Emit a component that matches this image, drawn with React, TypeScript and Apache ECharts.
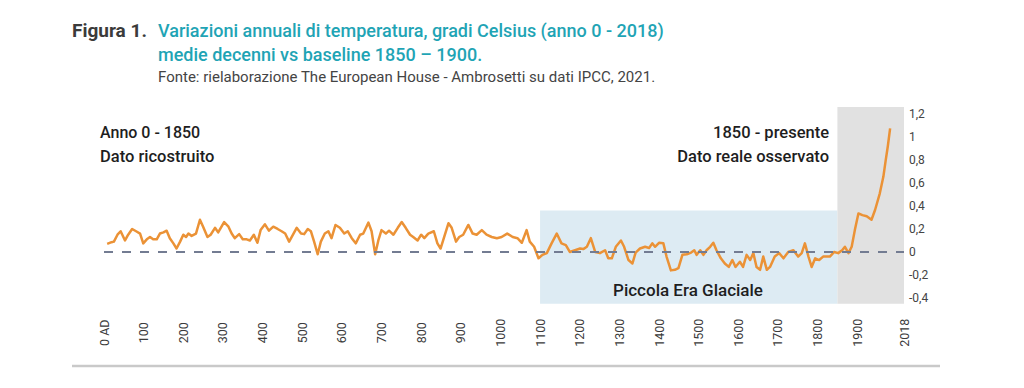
import React, { useEffect, useRef } from "react";
import * as echarts from "echarts";

// Years (x) and temperature anomaly (°C vs 1850-1900)
const years: number[] = [
  8, 19, 25, 34, 42, 53, 61, 71, 81, 91, 99, 108, 116, 124, 133, 141, 150, 158, 166, 175,
  183, 192, 200, 207, 213, 221, 232, 242, 250, 261, 269, 280, 288, 303, 314, 322, 330, 341,
  350, 360, 368, 378, 387, 395, 406, 416, 427, 438, 448, 457, 467, 475, 486, 497, 505, 514,
  522, 530, 539, 547, 557, 566, 574, 584, 595, 606, 615, 625, 635, 646, 654, 667, 675, 684,
  692, 700, 711, 719, 730, 741, 751, 761, 772, 780, 791, 800, 808, 818, 832, 841, 849, 858,
  869, 877, 888, 896, 906, 919, 930, 940, 953, 965, 978, 991, 1003, 1017, 1031, 1043, 1054,
  1066, 1074, 1085, 1096, 1106, 1117, 1129, 1142, 1154, 1165, 1175, 1188, 1201, 1209, 1218,
  1228, 1239, 1251, 1264, 1272, 1281, 1291, 1304, 1312, 1323, 1333, 1341, 1352, 1365, 1375,
  1383, 1390, 1400, 1411, 1419, 1430, 1440, 1449, 1459, 1470, 1481, 1489, 1495, 1504, 1512,
  1520, 1529, 1537, 1545, 1556, 1566, 1576, 1585, 1593, 1604, 1612, 1621, 1630, 1638, 1646,
  1655, 1663, 1672, 1680, 1692, 1703, 1714, 1726, 1739, 1751, 1760, 1768, 1777, 1785, 1794,
  1804, 1814, 1823, 1831, 1842, 1852, 1862, 1869, 1878, 1886, 1894, 1903, 1913, 1924, 1936,
  1945, 1957, 1966, 1972, 1977, 1983,
];
const anomalies: number[] = [
  0.07, 0.085, 0.09, 0.15, 0.18, 0.1, 0.15, 0.2, 0.18, 0.16, 0.075, 0.11, 0.13, 0.11, 0.11, 0.16, 0.17, 0.185, 0.12, 0.075,
  0.03, 0.09, 0.15, 0.13, 0.16, 0.14, 0.16, 0.28, 0.22, 0.13, 0.15, 0.21, 0.17, 0.26, 0.22, 0.16, 0.12, 0.155,
  0.11, 0.11, 0.1, 0.15, 0.08, 0.19, 0.24, 0.185, 0.22, 0.2, 0.18, 0.16, 0.09, 0.14, 0.21, 0.16, 0.155, 0.2,
  0.18, 0.09, -0.02, 0.09, 0.16, 0.18, 0.12, 0.235, 0.21, 0.16, 0.18, 0.12, 0.075, 0.15, 0.16, 0.255, 0.18, -0.02,
  0.1, 0.19, 0.16, 0.185, 0.15, 0.21, 0.26, 0.21, 0.15, 0.13, 0.1, 0.15, 0.12, 0.16, 0.18, 0.075, 0.03, 0.13,
  0.25, 0.21, 0.09, 0.13, 0.15, 0.235, 0.16, 0.15, 0.19, 0.15, 0.13, 0.12, 0.13, 0.16, 0.13, 0.12, 0.08,
  0.19, 0.09, 0.045, -0.055, -0.025, -0.01, 0.075, 0.16, 0.075, 0.06, 0.0, 0.015, 0.03, 0.025, 0.045,
  0.12, 0.0, -0.01, 0.015, -0.055, -0.055, 0.045, 0.1, 0.045, -0.07, -0.1, -0.005, 0.03, 0.045, 0.035,
  0.075, 0.045, 0.08, 0.075, -0.04, -0.16, -0.155, -0.14, -0.025, -0.02, -0.005, 0.015, -0.025, 0.015, -0.025,
  0.015, 0.045, 0.08, 0.015, -0.055, -0.1, -0.13, -0.07, -0.13, -0.085, -0.13, -0.025, -0.07, -0.01, -0.13,
  -0.155, -0.04, -0.155, -0.13, -0.04, -0.01, -0.055, 0.0, 0.015, -0.04, -0.01, 0.075, -0.04, -0.13, -0.055,
  -0.07, -0.04, -0.04, -0.04, 0.0, -0.01, 0.015, 0.045, -0.01, 0.045, 0.19, 0.335, 0.32, 0.31, 0.28,
  0.365, 0.51, 0.655, 0.8, 0.915, 1.075,
];

const xTickValues: number[] = [0, 100, 200, 300, 400, 500, 600, 700, 800, 900, 1000, 1100, 1200, 1300, 1400, 1500, 1600, 1700, 1800, 1900, 2018];
const yTickValues: number[] = [-0.4, -0.2, 0, 0.2, 0.4, 0.6, 0.8, 1, 1.2];

// Highlighted periods
const littleIceAge = { from: 1100, to: 1850, top: 0.36 };
const observedPeriod = { from: 1850, to: 2018 };
const yMin = -0.45;
const yMax = 1.26;

const FONT = "Roboto, 'Noto Sans', sans-serif";

const txt = (
  text: string,
  x: number,
  y: number,
  font: string,
  fill: string,
  align: string = "left"
) => ({
  type: "text",
  x,
  y,
  z: 100,
  zlevel: 0,
  style: {
    text,
    font,
    fill,
    align,
    verticalAlign: "middle",
    textAlign: align,
    textVerticalAlign: "middle",
  },
});

export default function App() {
  const ref = useRef<HTMLDivElement>(null);

  useEffect(() => {
    if (!ref.current) return;
    const chart = echarts.init(ref.current, undefined, { renderer: "svg" });
    const lineData = years.map((y, i) => [y, anomalies[i]]);

    chart.setOption({
      animation: false,
      backgroundColor: "#ffffff",
      grid: { left: 104, right: 120, top: 107, bottom: 84.25, containLabel: false },
      xAxis: {
        type: "value",
        min: 0,
        max: 2018,
        axisLine: { show: false },
        axisTick: { show: false },
        splitLine: { show: false },
        axisLabel: {
          customValues: xTickValues,
          rotate: 90,
          align: "center",
          verticalAlign: "middle",
          margin: 29,
          fontFamily: FONT,
          fontSize: 12.5,
          color: "#3a3a3a",
          formatter: (v: number) => (v === 0 ? "0 AD" : String(v)),
        },
      },
      yAxis: {
        type: "value",
        position: "right",
        min: yMin,
        max: yMax,
        axisLine: { show: false },
        axisTick: { show: false },
        splitLine: { show: false },
        axisLabel: {
          customValues: yTickValues,
          margin: 5,
          fontFamily: FONT,
          fontSize: 12,
          color: "#444444",
          formatter: (v: number) => String(Math.round(v * 10) / 10).replace(".", ","),
        },
      },
      series: [
        {
          type: "line",
          data: [],
          z: 1,
          silent: true,
          markArea: {
            silent: true,
            data: [
              [
                { xAxis: littleIceAge.from, yAxis: yMin, itemStyle: { color: "#DDEBF3" } },
                { xAxis: littleIceAge.to, yAxis: littleIceAge.top },
              ],
              [
                { xAxis: observedPeriod.from, yAxis: yMin, itemStyle: { color: "#E1E1E1" } },
                { xAxis: observedPeriod.to, yAxis: yMax },
              ],
            ],
          },
          markLine: {
            silent: true,
            symbol: "none",
            label: { show: false },
            lineStyle: { color: "#737C92", width: 2, type: [9, 9] },
            data: [{ yAxis: 0 }],
          },
        },
        {
          type: "line",
          data: lineData,
          z: 3,
          showSymbol: false,
          silent: true,
          lineStyle: { color: "#EB9236", width: 2.5, join: "round" },
        },
      ],
      graphic: {
        elements: [
          txt("Figura 1.", 72, 30, `bold 19px ${FONT}`, "#3b3b3b"),
          txt("Variazioni annuali di temperatura, gradi Celsius (anno 0 - 2018)", 158, 30, `500 18px ${FONT}`, "#1FA4B5"),
          txt("medie decenni vs baseline 1850 – 1900.", 158, 54, `500 18px ${FONT}`, "#1FA4B5"),
          txt("Fonte: rielaborazione The European House - Ambrosetti su dati IPCC, 2021.", 158, 77, `15px ${FONT}`, "#444444"),
          txt("Anno 0 - 1850", 100, 132, `500 16px ${FONT}`, "#1e1e1e"),
          txt("Dato ricostruito", 100, 156, `500 16.5px ${FONT}`, "#1e1e1e"),
          txt("1850 - presente", 829, 132, `500 16.5px ${FONT}`, "#1e1e1e", "right"),
          txt("Dato reale osservato", 829, 156, `500 16.5px ${FONT}`, "#1e1e1e", "right"),
          txt("Piccola Era Glaciale", 688, 290, `500 17px ${FONT}`, "#1e1e1e", "center"),
          {
            type: "line",
            z: 100,
            shape: { x1: 72, y1: 366, x2: 940, y2: 366 },
            style: { stroke: "#C9C9C9", lineWidth: 2.5 },
          },
        ],
      },
    });

    return () => chart.dispose();
  }, []);

  return (
    <div
      ref={ref}
      style={{ position: "absolute", left: 0, top: 0, width: 1024, height: 388 }}
    />
  );
}
